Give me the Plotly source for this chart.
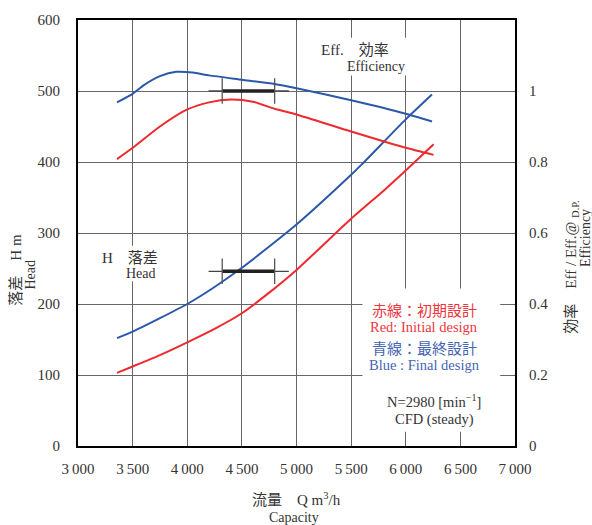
import plotly.graph_objects as go

# ---------------- data ----------------
x_ticks = [3000, 3500, 4000, 4500, 5000, 5500, 6000, 6500, 7000]
x_ticktext = ["3\u2009000", "3\u2009500", "4\u2009000", "4\u2009500", "5\u2009000",
              "5\u2009500", "6\u2009000", "6\u2009500", "7\u2009000"]
h_ticks = [0, 100, 200, 300, 400, 500, 600]
eff_ticks = [0, 0.2, 0.4, 0.6, 0.8, 1.0]
eff_ticktext = ["0", "0.2", "0.4", "0.6", "0.8", "1"]

# Head (m) vs capacity (m3/h)
q_head_blue = [3357, 3500, 3750, 4000, 4250, 4500, 5000, 5500, 5600, 6000, 6240]
head_blue = [152, 161, 180, 200, 224, 251, 312, 382, 397, 460, 495]
q_head_red = [3357, 3500, 3750, 4000, 4250, 4500, 4750, 5000, 5500, 5800, 6000, 6255]
head_red = [103, 112, 128, 146, 165, 187, 216, 248, 320, 360, 388, 425]

# Efficiency ratio (Eff / Eff@D.P.)
q_eff_blue = [3357, 3500, 3600, 3750, 3900, 4050, 4200, 4500, 4800, 5000, 5500, 6000, 6240]
eff_blue = [0.968, 0.992, 1.016, 1.042, 1.054, 1.052, 1.044, 1.032, 1.020, 1.008, 0.974, 0.936, 0.914]
q_eff_red = [3357, 3500, 3750, 4000, 4200, 4400, 4600, 4800, 5000, 5500, 6000, 6255]
eff_red = [0.808, 0.840, 0.900, 0.948, 0.968, 0.976, 0.970, 0.950, 0.934, 0.886, 0.840, 0.820]

# Design-point range markers
dp_q_outer = [4195, 4930]
dp_q_inner = [4320, 4800]
dp_head = 246
dp_head_half = 18
dp_eff = 1.0
dp_eff_half = 0.036

RED = "#ee2a2e"
BLUE = "#2b58a8"
RED_TXT = "#ee3540"
BLUE_TXT = "#4565b5"
TXT = "#333333"
FONT = "Liberation Serif, Noto Sans CJK JP, serif"

fig = go.Figure()

# efficiency curves (right axis)
fig.add_trace(go.Scatter(x=q_eff_blue, y=eff_blue, mode="lines", yaxis="y2",
                         line=dict(color=BLUE, width=2, shape="spline", smoothing=0.6)))
fig.add_trace(go.Scatter(x=q_eff_red, y=eff_red, mode="lines", yaxis="y2",
                         line=dict(color=RED, width=2, shape="spline", smoothing=0.6)))
# head curves (left axis)
fig.add_trace(go.Scatter(x=q_head_blue, y=head_blue, mode="lines",
                         line=dict(color=BLUE, width=2, shape="spline", smoothing=0.6)))
fig.add_trace(go.Scatter(x=q_head_red, y=head_red, mode="lines",
                         line=dict(color=RED, width=2, shape="spline", smoothing=0.6)))

# design point markers
for yv, half, ax in [(dp_head, dp_head_half, "y"), (dp_eff, dp_eff_half, "y2")]:
    fig.add_trace(go.Scatter(x=dp_q_outer, y=[yv, yv], mode="lines", yaxis=ax,
                             line=dict(color="#444444", width=1.3)))
    fig.add_trace(go.Scatter(x=dp_q_inner, y=[yv, yv], mode="lines", yaxis=ax,
                             line=dict(color="#222222", width=3.5)))
    fig.add_trace(go.Scatter(
        x=[dp_q_inner[0], dp_q_inner[0], None, dp_q_inner[1], dp_q_inner[1]],
        y=[yv - half, yv + half, None, yv - half, yv + half],
        mode="lines", yaxis=ax, line=dict(color="#555555", width=1.3)))

# white blanks behind labels (cut the grid)
for x0, x1, y0, y1 in [(5400, 6100, 522, 575), (3205, 3755, 232, 282), (5604, 6865, 20, 222)]:
    fig.add_shape(type="rect", xref="x", yref="y", x0=x0, x1=x1, y0=y0, y1=y1,
                  fillcolor="white", line=dict(width=0), layer="between")

def ann(x, y, text, size=14, color=TXT):
    fig.add_annotation(x=x, y=y, xref="x", yref="y", text=text, showarrow=False,
                       xanchor="center", yanchor="middle",
                       font=dict(family=FONT, size=size, color=color))

ann(5535, 558, "Eff.\u3000効率", 15)
ann(5731, 534, "Efficiency", 14)
ann(3480, 265, "H\u3000落差", 15)
ann(3580, 243, "Head", 14)
ann(6171, 190, "赤線：初期設計", 15, RED_TXT)
ann(6171, 167, "Red: Initial design", 14.5, RED_TXT)
ann(6171, 137, "青線：最終設計", 15, BLUE_TXT)
ann(6171, 114, "Blue : Final design", 14.5, BLUE_TXT)
ann(6262, 63, "N=2980 [min<sup>−1</sup>]", 14.5)
ann(6262, 38, "CFD (steady)", 14.5)

L, R, T, B = 78, 77, 16, 79
W, H = 592, 525
PW, PH = W - L - R, H - T - B

def pann(px, py, text, size=14, angle=0):
    fig.add_annotation(x=(px - L) / PW, y=(H - B - py) / PH, xref="paper", yref="paper",
                       text=text, showarrow=False, textangle=angle,
                       xanchor="center", yanchor="middle",
                       font=dict(family=FONT, size=size, color=TXT))

pann(296, 500, "流量\u3000Q m<sup>3</sup>/h", 15)
pann(294, 518, "Capacity", 14)
pann(16, 268, "落差\u3000H m", 15, -90)
pann(31, 273, "Head", 14, -90)
pann(572, 266, "効率\u3000Eff / Eff.@ <sub>D.P.</sub>", 15, -90)
pann(586, 236, "Efficiency", 14, -90)

fig.update_layout(
    width=W, height=H, margin=dict(l=L, r=R, t=T, b=B),
    paper_bgcolor="white", plot_bgcolor="white", showlegend=False,
    font=dict(family=FONT, size=15, color=TXT),
    xaxis=dict(range=[3000, 7000], tickvals=x_ticks, ticktext=x_ticktext,
               showgrid=True, gridcolor="#666666", gridwidth=1.2, zeroline=False,
               showline=True, linecolor="black", linewidth=2, mirror=True,
               ticks="outside", ticklen=8, tickcolor="rgba(0,0,0,0)",
               tickfont=dict(family=FONT, size=15, color=TXT)),
    yaxis=dict(range=[0, 600], tickvals=h_ticks,
               showgrid=True, gridcolor="#666666", gridwidth=1.2, zeroline=False,
               showline=True, linecolor="black", linewidth=2, mirror=True,
               ticks="outside", ticklen=13, tickcolor="rgba(0,0,0,0)",
               tickfont=dict(family=FONT, size=15, color=TXT)),
    yaxis2=dict(range=[0, 1.2], overlaying="y", side="right", tickvals=eff_ticks,
                ticktext=eff_ticktext, showgrid=False, zeroline=False, showline=False,
                ticks="outside", ticklen=10, tickcolor="rgba(0,0,0,0)",
                tickfont=dict(family=FONT, size=15, color=TXT)),
)

fig.write_html("out.html")
